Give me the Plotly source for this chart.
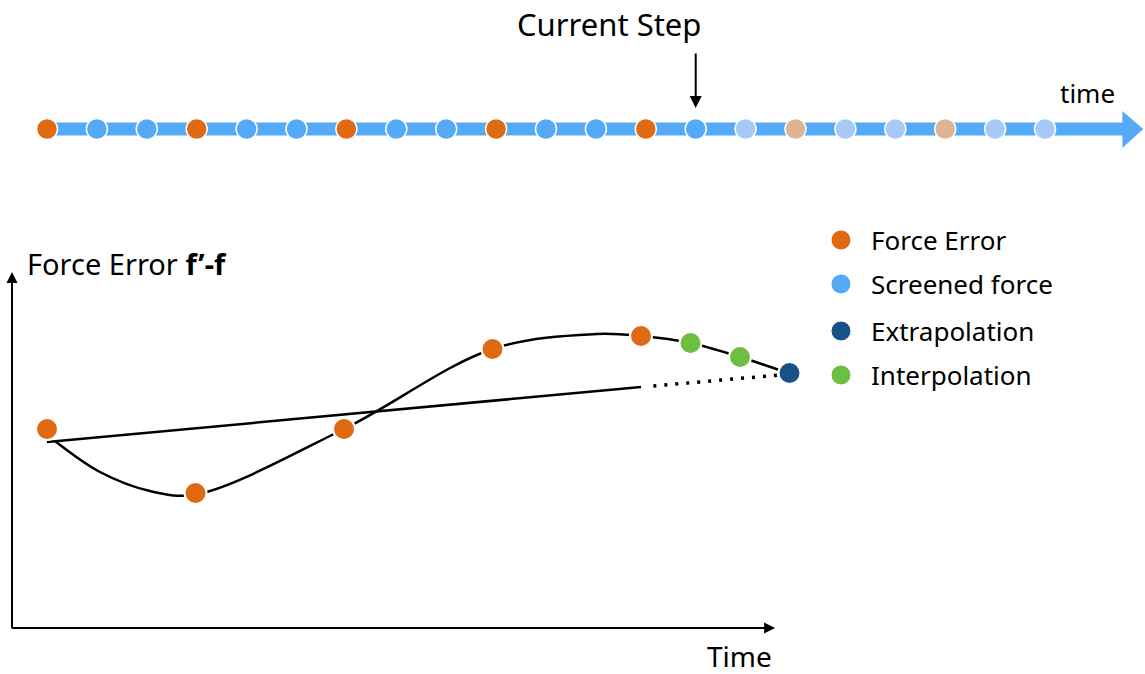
import plotly.graph_objects as go

W, H = 1145, 674
FONT = "Noto Sans"

# ---------------- Timeline data ----------------
timeline_steps = list(range(21))
# E = force error evaluated, S = screened force
timeline_kind = ["E", "S", "S", "E", "S", "S", "E", "S", "S", "E", "S",
                 "S", "E", "S", "S", "E", "S", "S", "E", "S", "S"]
current_step = 13
timeline_end = 21.6

# ---------------- Force error plot data ----------------
force_err_t = [0, 3, 6, 9, 12]
force_err_e = [3.98, 2.70, 3.98, 5.58, 5.84]
interp_t = [13, 14]
interp_e = [5.70, 5.42]
extrap_t = [15]
extrap_e = [5.10]
curve_t = [0.16, 1.07, 2.08, 3.0, 6.0, 9.0, 11.1, 12.0, 13.0, 14.0, 14.85]
curve_e = [3.74, 3.12, 2.74, 2.67, 3.98, 5.58, 5.88, 5.84, 5.70, 5.42, 5.14]
fit_t = [0, 12]
fit_e = [3.72, 4.82]
fit_dot_t = [12.25, 14.8]
fit_dot_e = [4.84, 5.06]

legend_labels = ["Force Error", "Screened force", "Extrapolation", "Interpolation"]
legend_e = [7.76, 6.88, 5.94, 5.06]

C_ORANGE = "#E06A12"
C_BLUE = "#55AAF8"
C_LBLUE = "#A6C9F8"
C_LORANGE = "#DDB594"
C_DBLUE = "#1A5088"
C_GREEN = "#6DBF44"
legend_colors = [C_ORANGE, C_BLUE, C_DBLUE, C_GREEN]

fig = go.Figure()

# timeline bar
fig.add_trace(go.Scatter(x=[0, timeline_end], y=[0, 0], mode="lines",
                         line=dict(color=C_BLUE, width=13), hoverinfo="skip",
                         xaxis="x", yaxis="y"))
# arrow head
fig.add_trace(go.Scatter(x=[timeline_end - 0.05, timeline_end - 0.05, 21.97, timeline_end - 0.05],
                         y=[18, -19, 0, 18], mode="lines", fill="toself",
                         fillcolor=C_BLUE, line=dict(color=C_BLUE, width=0),
                         hoverinfo="skip", xaxis="x", yaxis="y"))
cols = []
for s, k in zip(timeline_steps, timeline_kind):
    if s <= current_step:
        cols.append(C_ORANGE if k == "E" else C_BLUE)
    else:
        cols.append(C_LORANGE if k == "E" else C_LBLUE)
fig.add_trace(go.Scatter(x=timeline_steps, y=[0] * len(timeline_steps), mode="markers",
                         marker=dict(size=21, color=cols, line=dict(color="white", width=1.5)),
                         xaxis="x", yaxis="y"))

# fitted straight line and dotted extension
fig.add_trace(go.Scatter(x=fit_t, y=fit_e, mode="lines",
                         line=dict(color="black", width=2.5), xaxis="x2", yaxis="y2"))
fig.add_trace(go.Scatter(x=fit_dot_t, y=fit_dot_e, mode="lines",
                         line=dict(color="black", width=3.5, dash="3px,8px"),
                         xaxis="x2", yaxis="y2"))
# smooth curve
fig.add_trace(go.Scatter(x=curve_t, y=curve_e, mode="lines",
                         line=dict(color="black", width=2.5, shape="spline", smoothing=1.0),
                         xaxis="x2", yaxis="y2"))
mk = dict(size=22, line=dict(color="white", width=2))
fig.add_trace(go.Scatter(x=force_err_t, y=force_err_e, mode="markers",
                         marker=dict(color=C_ORANGE, **mk), xaxis="x2", yaxis="y2"))
fig.add_trace(go.Scatter(x=interp_t, y=interp_e, mode="markers",
                         marker=dict(color=C_GREEN, **mk), xaxis="x2", yaxis="y2"))
fig.add_trace(go.Scatter(x=extrap_t, y=extrap_e, mode="markers",
                         marker=dict(color=C_DBLUE, **mk), xaxis="x2", yaxis="y2"))

# legend markers
fig.add_trace(go.Scatter(x=[16.04] * 4, y=legend_e, mode="markers",
                         marker=dict(size=20, color=legend_colors, line=dict(color="white", width=1)),
                         xaxis="x2", yaxis="y2"))

ann = []
for lab, e in zip(legend_labels, legend_e):
    ann.append(dict(x=16.6, y=e, xref="x2", yref="y2", text=lab, showarrow=False,
                    xanchor="left", yanchor="middle", font=dict(size=26, color="black", family=FONT)))
# current step arrow
ann.append(dict(x=current_step, y=21, xref="x", yref="y", ax=current_step, ay=77,
                axref="x", ayref="y", text="", showarrow=True, arrowhead=2,
                arrowsize=1.2, arrowwidth=2, arrowcolor="black"))
ann.append(dict(x=current_step - 1.74, y=105, xref="x", yref="y", text="Current Step",
                showarrow=False, xanchor="center", yanchor="middle",
                font=dict(size=31, color="black", family=FONT)))
ann.append(dict(x=20.86, y=36, xref="x", yref="y", text="time", showarrow=False,
                xanchor="center", yanchor="middle", font=dict(size=26, color="black", family=FONT)))
# axes arrows
ann.append(dict(x=-0.707, y=7.12, xref="x2", yref="y2", ax=-0.707, ay=-0.02,
                axref="x2", ayref="y2", text="", showarrow=True, arrowhead=2,
                arrowsize=1.1, arrowwidth=2, arrowcolor="black"))
ann.append(dict(x=14.71, y=0, xref="x2", yref="y2", ax=-0.75, ay=0,
                axref="x2", ayref="y2", text="", showarrow=True, arrowhead=2,
                arrowsize=1.1, arrowwidth=2, arrowcolor="black"))
ann.append(dict(x=-0.45, y=7.30, xref="x2", yref="y2", text="Force Error <b>f’-f</b>",
                showarrow=False, xanchor="left", yanchor="middle",
                font=dict(size=29, color="black", family=FONT)))
ann.append(dict(x=13.98, y=-0.56, xref="x2", yref="y2", text="Time",
                showarrow=False, xanchor="center", yanchor="middle",
                font=dict(size=28, color="black", family=FONT)))

ax_common = dict(visible=False, showgrid=False, zeroline=False, fixedrange=True)
fig.update_layout(
    width=W, height=H,
    margin=dict(l=0, r=0, t=0, b=0),
    paper_bgcolor="white", plot_bgcolor="white",
    showlegend=False,
    xaxis=dict(range=[-47 / 49.9, 1098 / 49.9], domain=[0, 1], **ax_common),
    yaxis=dict(range=[-545, 129], domain=[0, 1], **ax_common),
    xaxis2=dict(range=[-47 / 49.5, 1098 / 49.5], domain=[0, 1], overlaying="x",
                anchor="y2", **ax_common),
    yaxis2=dict(range=[-0.92, 12.56], domain=[0, 1], overlaying="y",
                anchor="x2", **ax_common),
    annotations=ann,
)

fig.write_html("out.html", config={"displayModeBar": False},
               post_script="document.body.style.margin='0';document.body.style.overflow='hidden';")
